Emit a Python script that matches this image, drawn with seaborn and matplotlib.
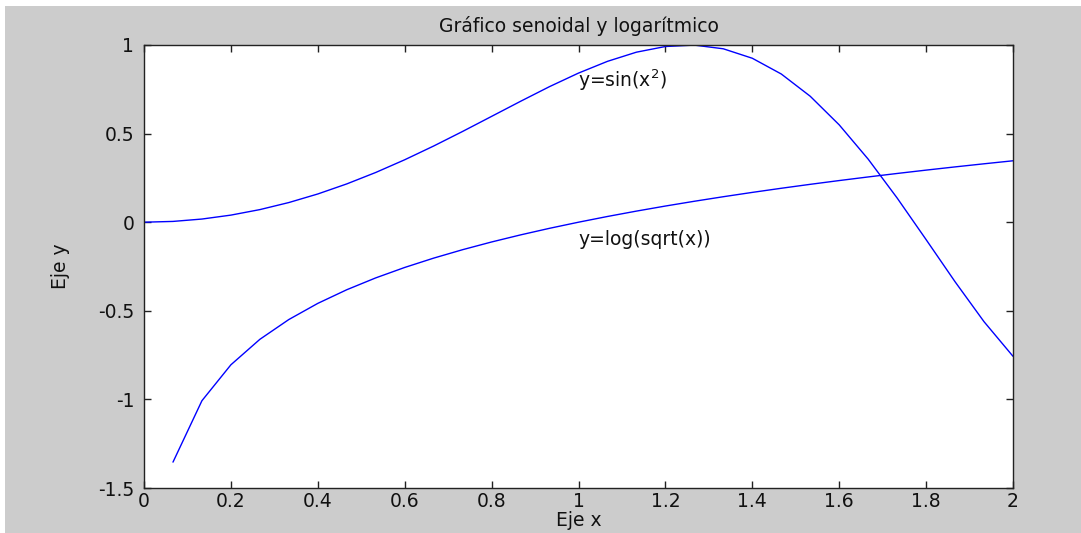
import matplotlib
matplotlib.use("Agg")
import matplotlib.pyplot as plt
from matplotlib.patches import Rectangle
import seaborn as sns
import pandas as pd

# Sample points x = 0 : 2/30 : 2
x_vals = [0.0, 0.0667, 0.1333, 0.2, 0.2667, 0.3333, 0.4, 0.4667, 0.5333, 0.6,
          0.6667, 0.7333, 0.8, 0.8667, 0.9333, 1.0, 1.0667, 1.1333, 1.2, 1.2667,
          1.3333, 1.4, 1.4667, 1.5333, 1.6, 1.6667, 1.7333, 1.8, 1.8667, 1.9333, 2.0]

# y = sin(x^2)
sin_vals = [0.0, 0.0044, 0.0178, 0.0400, 0.0711, 0.1109, 0.1593, 0.2161, 0.2806, 0.3523,
            0.4300, 0.5122, 0.5972, 0.6823, 0.7651, 0.8415, 0.9078, 0.9595, 0.9915, 0.9994,
            0.9786, 0.9252, 0.8363, 0.7108, 0.5494, 0.3558, 0.1367, -0.0982, -0.3362, -0.5614,
            -0.7568]

# y = log(sqrt(x)), undefined at x = 0
log_vals = [None, -1.3540, -1.0075, -0.8047, -0.6609, -0.5493, -0.4581, -0.3811, -0.3143, -0.2554,
            -0.2027, -0.1551, -0.1116, -0.0716, -0.0345, 0.0, 0.0323, 0.0626, 0.0912, 0.1182,
            0.1438, 0.1682, 0.1915, 0.2137, 0.2350, 0.2554, 0.2750, 0.2939, 0.3121, 0.3296,
            0.3466]

x_ticks = [0, 0.2, 0.4, 0.6, 0.8, 1, 1.2, 1.4, 1.6, 1.8, 2]
x_tick_labels = ["0", "0.2", "0.4", "0.6", "0.8", "1", "1.2", "1.4", "1.6", "1.8", "2"]
y_ticks = [-1.5, -1, -0.5, 0, 0.5, 1]
y_tick_labels = ["-1.5", "-1", "-0.5", "0", "0.5", "1"]

sns.set_style("white")
plt.rcParams["font.family"] = ["DejaVu Sans"]
FS = 13.5
plt.rcParams["font.size"] = FS

W, H = 1081, 533
fig = plt.figure(figsize=(W / 100, H / 100), dpi=100)
fig.patch.set_facecolor("white")
# grey window area with a thin white margin at top and left
fig.add_artist(Rectangle((5 / W, 0), 1 - 5 / W, (H - 6) / H, transform=fig.transFigure,
                         facecolor="#cccccc", edgecolor="none", zorder=-10))

ax = fig.add_axes([144 / W, (H - 488) / H, (1013 - 144) / W, (488 - 45) / H])
ax.set_facecolor("white")

df_sin = pd.DataFrame({"x": x_vals, "y": sin_vals})
df_log = pd.DataFrame({"x": x_vals, "y": log_vals}).dropna()

sns.lineplot(data=df_sin, x="x", y="y", ax=ax, color="#0000ff", linewidth=1.0,
             estimator=None, sort=False)
sns.lineplot(data=df_log, x="x", y="y", ax=ax, color="#0000ff", linewidth=1.0,
             estimator=None, sort=False)

ax.set_xlim(0, 2)
ax.set_ylim(-1.5, 1)
ax.set_xticks(x_ticks)
ax.set_xticklabels(x_tick_labels)
ax.set_yticks(y_ticks)
ax.set_yticklabels(y_tick_labels)

for side in ["left", "right", "top", "bottom"]:
    ax.spines[side].set_visible(True)
    ax.spines[side].set_color("#222222")
    ax.spines[side].set_linewidth(1.0)

ax.tick_params(axis="both", which="major", direction="in", length=5, width=1,
               color="#222222", labelsize=FS, labelcolor="#111111",
               top=True, right=True, bottom=True, left=True)
ax.tick_params(axis="x", pad=3)
ax.tick_params(axis="y", pad=7)

ax.set_title("Gráfico senoidal y logarítmico", fontsize=FS, color="#111111", pad=9)
ax.set_xlabel("Eje x", fontsize=FS, color="#111111", labelpad=0)
ax.set_ylabel("Eje y", fontsize=FS, color="#111111", labelpad=20)

ax.text(1.0, 0.8, "y=sin(x$^2$)", fontsize=FS, color="#111111", va="center", ha="left")
ax.text(1.0, -0.1, "y=log(sqrt(x))", fontsize=FS, color="#111111", va="center", ha="left")

fig.savefig("out.png", dpi=100, facecolor=fig.get_facecolor())
